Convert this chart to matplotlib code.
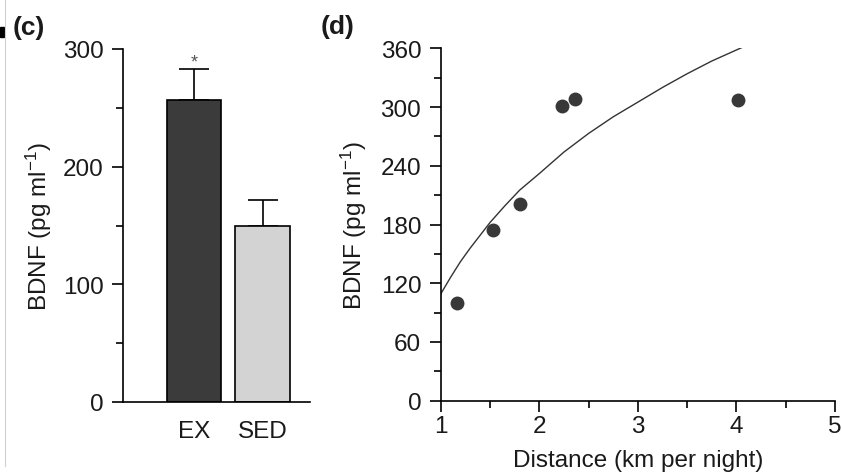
import matplotlib
matplotlib.use("Agg")
import matplotlib.pyplot as plt
from matplotlib.lines import Line2D
from matplotlib.patches import Rectangle

# ---- data ----
groups = ["EX", "SED"]
bdnf_means = [257, 150]
bdnf_err = [26, 22]

distance = [1.17, 1.53, 1.80, 2.23, 2.36, 4.02]
bdnf_points = [100, 174, 201, 301, 308, 307]

fit_x = [1.0, 1.1, 1.2, 1.3, 1.4, 1.5, 1.65, 1.8, 2.0, 2.25, 2.5, 2.75, 3.0, 3.25, 3.5, 3.75, 4.06]
fit_y = [109, 126, 142, 156, 169, 182, 199, 215, 232, 254, 273, 290, 305, 320, 334, 347, 361]

left_yticks = [0, 100, 200, 300]
left_yminor = [50, 150, 250]
right_yticks = [0, 60, 120, 180, 240, 300, 360]
right_yminor = [30, 90, 150, 210, 270, 330]
right_xticks = [1, 2, 3, 4, 5]
right_xminor = [1.5, 2.5, 3.5, 4.5]

plt.rcParams['font.family'] = ['Liberation Sans', 'DejaVu Sans']
plt.rcParams['mathtext.default'] = 'regular'
txt = '#1a1a1a'
fs = 17.5

fig = plt.figure(figsize=(8.42, 4.77), dpi=100)
W, H = 842, 477

def ax_rect(x0, y0, x1, y1):
    return [x0 / W, 1 - y1 / H, (x1 - x0) / W, (y1 - y0) / H]

# ---- panel (c) ----
ax1 = fig.add_axes(ax_rect(123, 50, 310, 403))
xpos = [0, 1]
ax1.bar(xpos, bdnf_means, width=0.79, color=['#3b3b3b', '#d3d3d3'],
        edgecolor='black', linewidth=1.2, zorder=2)
ax1.errorbar(xpos, bdnf_means, yerr=[[0, 0], bdnf_err], fmt='none',
             ecolor='black', elinewidth=1.2, capsize=10.5, capthick=1.2, zorder=1)
ax1.text(xpos[0], bdnf_means[0] + bdnf_err[0] + 6, '*', ha='center', va='center',
         fontsize=13, color='#555555')
ax1.set_xlim(-1.036, 1.693)
ax1.set_ylim(0, 300)
ax1.set_yticks(left_yticks)
ax1.set_yticks(left_yminor, minor=True)
ax1.set_xticks(xpos)
ax1.set_xticklabels(groups)
ax1.spines['top'].set_visible(False)
ax1.spines['right'].set_visible(False)
for s in ['left', 'bottom']:
    ax1.spines[s].set_linewidth(1.2)
ax1.tick_params(axis='y', which='major', length=8, width=1.2, direction='out',
                labelsize=fs, labelcolor=txt, pad=6)
ax1.tick_params(axis='y', which='minor', length=5, width=1.2, direction='out')
ax1.tick_params(axis='x', which='both', length=0, labelsize=fs, labelcolor=txt, pad=13)
ax1.set_ylabel('BDNF (pg ml$^{-1}$)', fontsize=fs, color=txt, labelpad=6)

# ---- panel (d) ----
ax2 = fig.add_axes(ax_rect(440.7, 49.3, 835, 401.7))
ax2.plot(fit_x, fit_y, color='#333333', linewidth=1.0, zorder=2)
ax2.plot(distance, bdnf_points, 'o', color='#383838', markersize=10,
         markeredgewidth=0, zorder=3, clip_on=False)
ax2.set_xlim(1, 5)
ax2.set_ylim(0, 360)
ax2.set_xticks(right_xticks)
ax2.set_xticks(right_xminor, minor=True)
ax2.set_yticks(right_yticks)
ax2.set_yticks(right_yminor, minor=True)
ax2.spines['top'].set_visible(False)
ax2.spines['right'].set_visible(False)
for s in ['left', 'bottom']:
    ax2.spines[s].set_linewidth(1.2)
ax2.tick_params(axis='both', which='major', length=8, width=1.2, direction='out',
                labelsize=fs, labelcolor=txt)
ax2.tick_params(axis='y', which='major', pad=6)
ax2.tick_params(axis='x', which='major', pad=2)
ax2.tick_params(axis='both', which='minor', length=5, width=1.2, direction='out')
ax2.set_ylabel('BDNF (pg ml$^{-1}$)', fontsize=fs, color=txt, labelpad=8)
ax2.set_xlabel('Distance (km per night)', fontsize=fs, color=txt, labelpad=9)

# ---- panel letters and artifacts ----
fig.text(29 / W, 1 - 28 / H, '(c)', fontsize=19, fontweight='bold', color=txt,
         ha='center', va='center')
fig.text(338 / W, 1 - 27 / H, '(d)', fontsize=19, fontweight='bold', color=txt,
         ha='center', va='center')
fig.add_artist(Line2D([5 / W, 5 / W], [1 - 0 / H, 1 - 467 / H], color='#d0d0d0',
                      linewidth=0.8))
fig.add_artist(Rectangle((0, 1 - 38 / H), 4 / W, 10 / H, color='black',
                         transform=fig.transFigure))

fig.savefig('out.png', dpi=100)
